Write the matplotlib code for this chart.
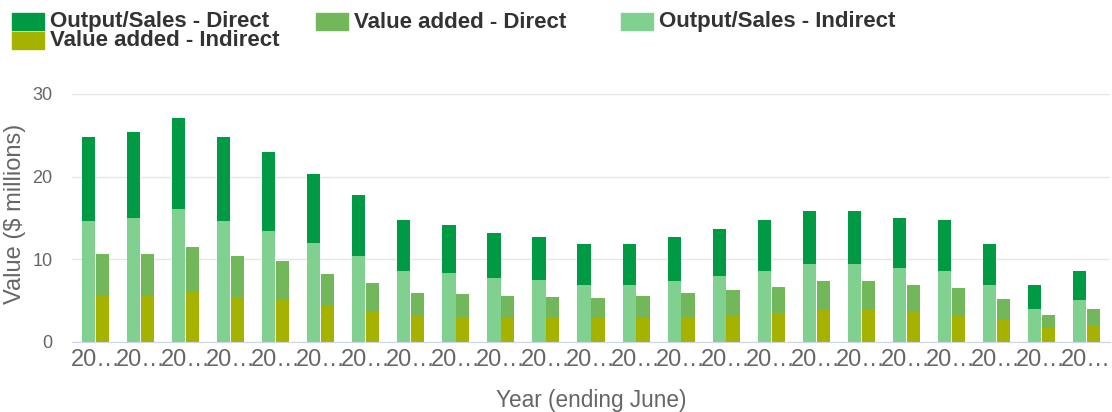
import matplotlib.pyplot as plt
from matplotlib.patches import Rectangle
import numpy as np

plt.rcParams["font.family"] = ["Liberation Sans", "DejaVu Sans"]

# totals read as stacked heights ($ millions)
output_total = [24.75, 25.35, 27.05, 24.75, 22.95, 20.3, 17.75, 14.7, 14.1, 13.15, 12.65, 11.8,
                11.8, 12.65, 13.65, 14.7, 15.8, 15.8, 15.05, 14.7, 11.8, 6.85, 8.55]
output_indirect = [14.6, 14.95, 16.05, 14.6, 13.4, 11.95, 10.35, 8.55, 8.3, 7.7, 7.45, 6.85,
                   6.85, 7.35, 7.95, 8.55, 9.4, 9.4, 8.9, 8.55, 6.85, 4.05, 5.05]
value_total = [10.7, 10.7, 11.55, 10.35, 9.75, 8.2, 7.1, 5.9, 5.75, 5.55, 5.4, 5.3,
               5.55, 5.9, 6.25, 6.6, 7.35, 7.35, 6.95, 6.5, 5.15, 3.25, 3.95]
value_indirect = [5.55, 5.65, 6.05, 5.4, 5.1, 4.35, 3.7, 3.15, 3.0, 2.9, 2.9, 2.9,
                  2.9, 3.0, 3.15, 3.45, 3.85, 3.85, 3.65, 3.25, 2.65, 1.8, 2.0]

output_direct = [t - i for t, i in zip(output_total, output_indirect)]
value_direct = [t - i for t, i in zip(value_total, value_indirect)]

year_labels = ["20\u2026"] * len(output_total)

c_out_dir = "#009944"
c_val_dir = "#72B85A"
c_out_ind = "#80D08F"
c_val_ind = "#A5B300"

W, H = 1112, 412
fig = plt.figure(figsize=(W / 100, H / 100), dpi=100)


def fx(px):
    return px / W


def fy(py):
    return 1 - py / H


ax = fig.add_axes([fx(72), fy(342), fx(1110) - fx(72), fy(94) - fy(342)])

x = np.arange(len(output_total))
w = 0.29
off = 0.155
ax.bar(x - off, output_indirect, w, color=c_out_ind, zorder=2)
ax.bar(x - off, output_direct, w, bottom=output_indirect, color=c_out_dir, zorder=2)
ax.bar(x + off, value_indirect, w, color=c_val_ind, zorder=2)
ax.bar(x + off, value_direct, w, bottom=value_indirect, color=c_val_dir, zorder=2)

ax.set_xlim(-0.53, len(x) - 1 + 0.53)
ax.set_ylim(0, 30)
ax.set_yticks([0, 10, 20, 30])
ax.set_xticks(x)
ax.set_xticklabels(year_labels, fontsize=17, color="#666666")
ax.tick_params(axis="y", labelsize=13, colors="#666666", length=0, pad=14)
ax.tick_params(axis="x", length=0, pad=5)
ax.grid(axis="y", color="#e6e6e6", linewidth=1, zorder=0)
for s in ["top", "right", "left"]:
    ax.spines[s].set_visible(False)
ax.spines["bottom"].set_color("#ccd6eb")
ax.spines["bottom"].set_zorder(3)

ax.set_xlabel("Year (ending June)", fontsize=16.3, color="#666666", labelpad=13)
fig.text(fx(15), fy(214), "Value ($ millions)", rotation=90, fontsize=17,
         color="#666666", ha="center", va="center")

# legend drawn across the top
legend_items = [
    ("Output/Sales - Direct", c_out_dir, 12, 22),
    ("Value added - Direct", c_val_dir, 316, 22),
    ("Output/Sales - Indirect", c_out_ind, 621, 22),
    ("Value added - Indirect", c_val_ind, 12, 41),
]
for label, color, px, py in legend_items:
    fig.add_artist(Rectangle((fx(px), fy(py + 8)), fx(32), 17 / H,
                             transform=fig.transFigure, color=color))
    fig.text(fx(px + 38), fy(py), label, fontsize=16, fontweight="bold",
             color="#333333", ha="left", va="center")

fig.savefig("out.png", dpi=100)
